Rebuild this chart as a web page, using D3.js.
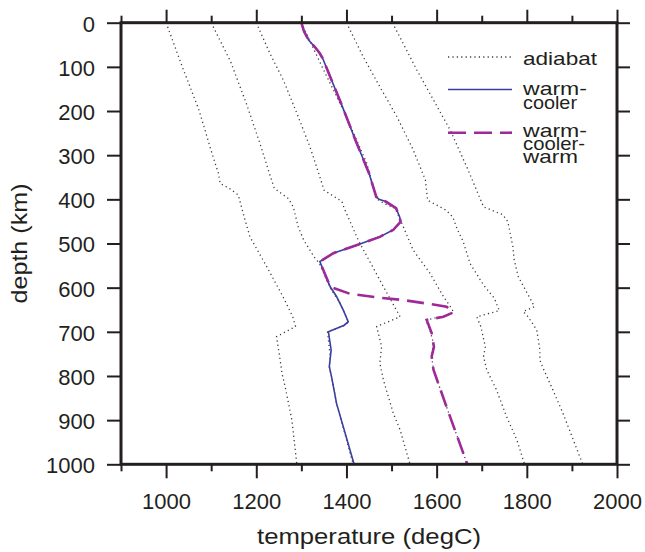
<!DOCTYPE html>
<html>
<head>
<meta charset="utf-8">
<script src="https://cdn.jsdelivr.net/npm/d3@7/dist/d3.min.js"></script>
<style>
  body { margin: 0; background: #fff; }
  svg { display: block; font-family: "Liberation Sans", Arial, sans-serif; }
  .axis text { font-size: 22px; fill: #231f20; }
  .axis line { stroke: #231f20; stroke-width: 2; }
  .axis path { display: none; }
</style>
</head>
<body>
<div id="chart"></div>
<script>
// ---- data: [depth (km), temperature (degC)] ----
const adiabat1000 = [[0,1000],[100,1036],[198,1073],[300,1103],[341,1116],[364,1120],[375,1140],[390,1160],[432,1171],[485,1186],[552,1223],[620,1259],[666,1281],[688,1287],[711,1245],[764,1253],[794,1257],[824,1264],[900,1279],[1000,1290]];
const adiabat1100 = [[0,1100],[88,1143],[183,1178],[273,1208],[341,1229],[375,1240],[390,1260],[398,1271],[417,1282],[462,1293],[492,1305],[530,1328],[545,1340],[601,1364],[635,1386],[677,1404],[685,1398],[700,1358],[756,1364],[779,1362],[802,1367],[862,1378],[1000,1415]];
const adiabat1200 = [[0,1200],[69,1230],[130,1260],[205,1290],[281,1319],[349,1341],[379,1350],[405,1390],[420,1395],[492,1426],[598,1482],[666,1519],[688,1467],[734,1478],[771,1474],[809,1482],[885,1504],[922,1519],[1000,1541]];
const adiabat1300 = [[0,1300],[100,1346],[200,1394],[318,1445],[398,1466],[410,1484],[420,1508],[462,1526],[515,1548],[567,1585],[620,1615],[647,1633],[656,1638],[664,1620],[673,1576],[696,1585],[726,1593],[756,1589],[786,1593],[870,1622],[1000,1668]];
const adiabat1400 = [[0,1400],[77,1437],[145,1474],[213,1512],[288,1548],[356,1575],[402,1580],[424,1620],[440,1636],[466,1645],[496,1659],[545,1674],[594,1704],[624,1728],[652,1739],[666,1689],[688,1698],[734,1708],[756,1704],[786,1711],[832,1733],[892,1755],[945,1778],[1000,1795]];
const adiabat1500 = [[0,1502],[107,1556],[243,1630],[334,1670],[417,1704],[435,1747],[451,1758],[507,1769],[537,1772],[575,1781],[643,1817],[654,1792],[666,1803],[696,1822],[741,1829],[764,1829],[782,1836],[832,1858],[884,1880],[1000,1924]];
const adiabats = [adiabat1000, adiabat1100, adiabat1200, adiabat1300, adiabat1400, adiabat1500];

const warmCooler = [[0,1300],[20,1306],[39,1316],[55,1330],[68,1340],[80,1347],[190,1391],[266,1420],[341,1450],[394,1466],[400,1472],[405,1487],[420,1510],[440,1518],[451,1520],[469,1504],[485,1474],[501,1430],[522,1371],[541,1341],[598,1364],[620,1378],[651,1393],[677,1404],[685,1395],[700,1360],[741,1366],[779,1362],[802,1367],[862,1378],[1000,1417]];
const warmCoolerWarm = [[0,1300],[20,1306],[39,1316],[55,1330],[68,1340],[80,1347],[190,1391],[266,1420],[341,1450],[394,1466],[400,1472],[405,1487],[420,1510],[440,1518],[451,1520],[469,1504],[485,1474],[501,1430],[522,1371],[541,1341],[598,1364],[614,1408],[622,1467],[628,1526],[637,1585],[643,1622],[656,1637],[666,1615],[673,1578],[703,1589],[734,1594],[756,1589],[786,1593],[870,1622],[1000,1668]];

const tempMajor = [1000, 1200, 1400, 1600, 1800, 2000];
const tempMinor = [900, 1100, 1300, 1500, 1700, 1900];
const depthTicks = [0, 100, 200, 300, 400, 500, 600, 700, 800, 900, 1000];

// ---- layout ----
const W = 645, H = 552;
const margin = {top: 22.7, right: 28, bottom: 87.7, left: 121};
const width = W - margin.left - margin.right;
const height = H - margin.top - margin.bottom;

const svg = d3.select("#chart").append("svg")
    .attr("width", W)
    .attr("height", H);

const g = svg.append("g")
    .attr("transform", "translate(" + margin.left + "," + margin.top + ")");

const x = d3.scaleLinear().domain([900, 2000]).range([0, width]);
const y = d3.scaleLinear().domain([0, 1000]).range([0, height]);

// axes (ticks outward on all four sides)
g.append("g").attr("class", "axis")
    .attr("transform", "translate(0," + height + ")")
    .call(d3.axisBottom(x).tickValues(tempMajor).tickSize(14).tickPadding(15).tickFormat(d3.format("d")));
g.append("g").attr("class", "axis")
    .attr("transform", "translate(0," + height + ")")
    .call(d3.axisBottom(x).tickValues(tempMinor).tickSize(7).tickFormat(""));
g.append("g").attr("class", "axis")
    .call(d3.axisTop(x).tickValues(tempMajor).tickSize(13).tickFormat(""));
g.append("g").attr("class", "axis")
    .call(d3.axisTop(x).tickValues(tempMinor).tickSize(7).tickFormat(""));
g.append("g").attr("class", "axis")
    .call(d3.axisLeft(y).tickValues(depthTicks).tickSize(14).tickPadding(12).tickFormat(d3.format("d")))
    .selectAll("text").attr("dy", "0.38em");
g.append("g").attr("class", "axis")
    .attr("transform", "translate(" + width + ",0)")
    .call(d3.axisRight(y).tickValues(depthTicks).tickSize(13).tickFormat(""));

// lines
const line = d3.line()
    .x(d => x(d[1]))
    .y(d => y(d[0]));

g.selectAll(".adiabat")
    .data(adiabats)
    .enter().append("path")
    .attr("class", "adiabat")
    .attr("d", line)
    .style("fill", "none")
    .style("stroke", "#3a3a3a")
    .style("stroke-width", 1.3)
    .style("stroke-dasharray", "1.2,3.2");

g.append("path")
    .attr("d", line(warmCooler))
    .style("fill", "none")
    .style("stroke", "#3b3f9f")
    .style("stroke-width", 1.6);

g.append("path")
    .attr("d", line(warmCoolerWarm))
    .style("fill", "none")
    .style("stroke", "#9d2a98")
    .style("stroke-width", 2.6)
    .style("stroke-dasharray", "17,8");

// frame
g.append("rect")
    .attr("width", width)
    .attr("height", height)
    .style("fill", "none")
    .style("stroke", "#231f20")
    .style("stroke-width", 3);

// axis titles (the original lettering is a little wider than the font)
svg.append("text")
    .attr("x", margin.left + width / 2 - 112)
    .attr("y", 544)
    .attr("textLength", 224)
    .attr("lengthAdjust", "spacingAndGlyphs")
    .style("font-size", "22.5px")
    .style("fill", "#231f20")
    .text("temperature (degC)");

svg.append("text")
    .attr("transform", "translate(27," + (margin.top + height / 2 + 60) + ") rotate(-90)")
    .attr("textLength", 120)
    .attr("lengthAdjust", "spacingAndGlyphs")
    .style("font-size", "22.5px")
    .style("fill", "#231f20")
    .text("depth (km)");

// legend
const legend = svg.append("g");
const lx1 = 448, lx2 = 512, tx = 523;

legend.append("line")
    .attr("x1", lx1).attr("x2", lx2).attr("y1", 57).attr("y2", 57)
    .style("stroke", "#3a3a3a").style("stroke-width", 1.3).style("stroke-dasharray", "1.2,3.2");
legend.append("line")
    .attr("x1", lx1).attr("x2", lx2).attr("y1", 89.5).attr("y2", 89.5)
    .style("stroke", "#3b3f9f").style("stroke-width", 1.6);
legend.append("line")
    .attr("x1", lx1).attr("x2", lx2).attr("y1", 132.7).attr("y2", 132.7)
    .style("stroke", "#9d2a98").style("stroke-width", 2.6).style("stroke-dasharray", "18,8");

const legendText = [
    {t: "adiabat", y: 65, w: 74},
    {t: "warm-", y: 95, w: 64},
    {t: "cooler", y: 108.5, w: 54},
    {t: "warm-", y: 137, w: 64},
    {t: "cooler-", y: 150, w: 62},
    {t: "warm", y: 163, w: 55}
];
legend.selectAll(".legend-text")
    .data(legendText)
    .enter().append("text")
    .attr("class", "legend-text")
    .attr("x", tx)
    .attr("y", d => d.y)
    .attr("textLength", d => d.w)
    .attr("lengthAdjust", "spacingAndGlyphs")
    .style("font-size", "18.5px")
    .style("fill", "#231f20")
    .text(d => d.t);
</script>
</body>
</html>
